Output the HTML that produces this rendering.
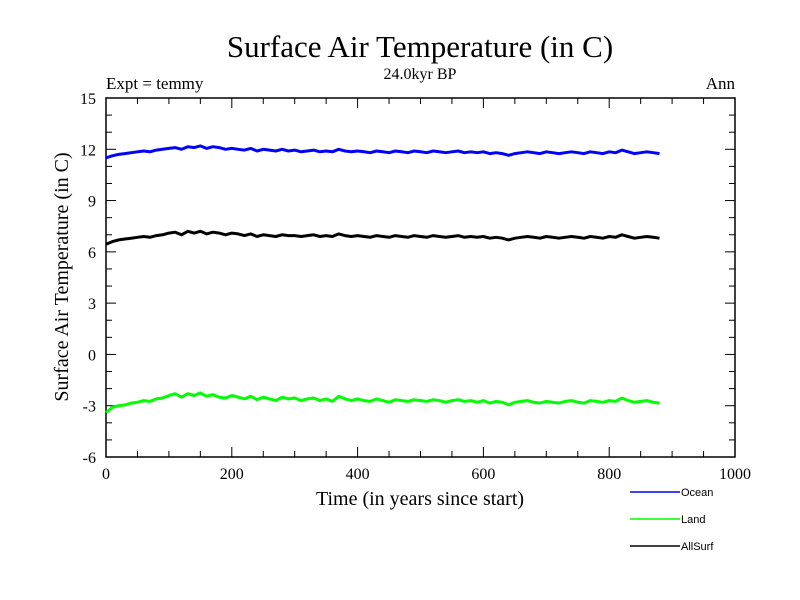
<!DOCTYPE html>
<html><head><meta charset="utf-8"><style>
html,body{margin:0;padding:0;background:#fff;}
svg{display:block;}
text{font-family:"Liberation Serif",serif;fill:#000;}
.lg{font-family:"Liberation Sans",sans-serif;font-size:11px;}
</style></head><body>
<svg id="chart" width="800" height="600" viewBox="0 0 800 600">
<text x="420" y="57" font-size="31" text-anchor="middle">Surface Air Temperature (in C)</text>
<text x="420" y="79" font-size="16" text-anchor="middle">24.0kyr BP</text>
<text x="106" y="89" font-size="17">Expt = temmy</text>
<text x="735" y="89" font-size="17" text-anchor="end">Ann</text>
<text transform="translate(68,277) rotate(-90)" font-size="20" text-anchor="middle">Surface Air Temperature (in C)</text>
<text x="420" y="505" font-size="20" text-anchor="middle">Time (in years since start)</text>
<g id="axes"></g>
<g id="series"></g>
<g>
<line x1="630" y1="492" x2="680" y2="492" stroke="#0000ff" stroke-width="1.5"/>
<text class="lg" x="681" y="496">Ocean</text>
<line x1="630" y1="519" x2="680" y2="519" stroke="#00ff00" stroke-width="1.5"/>
<text class="lg" x="681" y="523">Land</text>
<line x1="630" y1="546" x2="680" y2="546" stroke="#000" stroke-width="1.5"/>
<text class="lg" x="681" y="550">AllSurf</text>
</g>
</svg>
<script>
const xTicks=[0,200,400,600,800,1000];
const yTicks=[-6,-3,0,3,6,9,12,15];
const yearStep=10;
const ocean=[11.5,11.62,11.7,11.75,11.8,11.85,11.9,11.85,11.95,12.0,
12.05,12.1,12.0,12.15,12.1,12.2,12.05,12.15,12.1,12.0,
12.05,12.0,11.95,12.05,11.9,12.0,11.95,11.9,12.0,11.9,
11.95,11.85,11.9,11.95,11.85,11.9,11.85,12.0,11.9,11.85,
11.9,11.85,11.8,11.9,11.85,11.8,11.9,11.85,11.8,11.9,
11.85,11.8,11.9,11.85,11.8,11.85,11.9,11.8,11.85,11.8,
11.85,11.75,11.8,11.75,11.65,11.75,11.8,11.85,11.8,11.75,
11.85,11.8,11.75,11.8,11.85,11.8,11.75,11.85,11.8,11.75,
11.85,11.8,11.95,11.85,11.75,11.8,11.85,11.8,11.75];
const allSurf=[6.45,6.6,6.7,6.75,6.8,6.85,6.9,6.85,6.95,7.0,
7.1,7.15,7.0,7.2,7.1,7.2,7.05,7.15,7.1,7.0,
7.1,7.05,6.95,7.05,6.9,7.0,6.95,6.9,7.0,6.95,
6.95,6.9,6.95,7.0,6.9,6.95,6.9,7.05,6.95,6.9,
6.95,6.9,6.85,6.95,6.9,6.85,6.95,6.9,6.85,6.95,
6.9,6.85,6.95,6.9,6.85,6.9,6.95,6.85,6.9,6.85,
6.9,6.8,6.85,6.8,6.7,6.8,6.85,6.9,6.85,6.8,
6.9,6.85,6.8,6.85,6.9,6.85,6.8,6.9,6.85,6.8,
6.9,6.85,7.0,6.9,6.8,6.85,6.9,6.85,6.8];
const land=[-3.4,-3.1,-3.0,-2.95,-2.85,-2.8,-2.7,-2.75,-2.6,-2.55,
-2.4,-2.3,-2.5,-2.3,-2.4,-2.25,-2.45,-2.35,-2.5,-2.55,
-2.4,-2.5,-2.6,-2.45,-2.65,-2.5,-2.6,-2.7,-2.5,-2.6,
-2.55,-2.7,-2.6,-2.55,-2.7,-2.6,-2.75,-2.45,-2.6,-2.7,
-2.6,-2.7,-2.75,-2.6,-2.7,-2.8,-2.65,-2.7,-2.75,-2.65,
-2.7,-2.75,-2.65,-2.7,-2.8,-2.7,-2.65,-2.75,-2.7,-2.8,
-2.7,-2.85,-2.75,-2.8,-2.95,-2.8,-2.75,-2.7,-2.8,-2.85,
-2.75,-2.8,-2.85,-2.75,-2.7,-2.8,-2.85,-2.7,-2.75,-2.8,
-2.7,-2.75,-2.55,-2.7,-2.8,-2.75,-2.7,-2.8,-2.85];

const L=106,R=735,T=98,B=457;
const xs=v=>L+(v-0)/(1000-0)*(R-L);
const ys=v=>B-(v+6)/(15+6)*(B-T);
const NS='http://www.w3.org/2000/svg';
const axes=document.getElementById('axes');
function mk(tag,attrs,parent){const e=document.createElementNS(NS,tag);for(const k in attrs)e.setAttribute(k,attrs[k]);parent.appendChild(e);return e;}
const frame=mk('rect',{x:L,y:T,width:R-L,height:B-T,fill:'none',stroke:'#000','stroke-width':1.5},axes);


for(let v=0;v<=1000;v+=50){
  const major=v%200===0, len=major?10:6, x=xs(v);
  mk('line',{x1:x,y1:B,x2:x,y2:B-len,stroke:'#000'},axes);
  mk('line',{x1:x,y1:T,x2:x,y2:T+len,stroke:'#000'},axes);
}
for(let v=-6;v<=15;v++){
  const major=v%3===0, len=major?10:6, y=ys(v);
  mk('line',{x1:L,y1:y,x2:L+len,y2:y,stroke:'#000'},axes);
  mk('line',{x1:R,y1:y,x2:R-len,y2:y,stroke:'#000'},axes);
}
xTicks.forEach(v=>{
  const t=mk('text',{x:xs(v),y:B+22,'font-size':16,'text-anchor':'middle'},axes);
  t.textContent=v;
  
  
});
yTicks.forEach(v=>{
  const t=mk('text',{x:L-10,y:ys(v)+6,'font-size':16,'text-anchor':'end'},axes);
  t.textContent=v;
  
  
});
const sg=document.getElementById('series');
[[ocean,'#0000ff','ocean-line'],[land,'#00ff00','land-line'],[allSurf,'#000000','allsurf-line']].forEach(([arr,c,n])=>{
  const d=arr.map((v,i)=>(i?'L':'M')+xs(i*yearStep).toFixed(1)+','+ys(v).toFixed(1)).join('');
  const p=mk('path',{d:d,fill:'none',stroke:c,'stroke-width':3,'stroke-linejoin':'round'},sg);
  
  
});
</script>
</body></html>
